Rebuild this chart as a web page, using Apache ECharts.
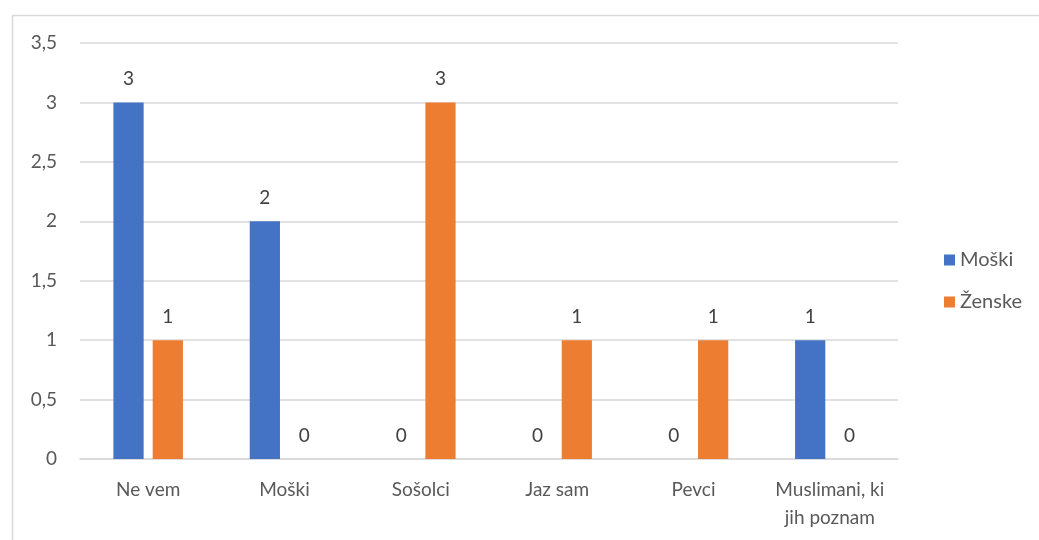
<!DOCTYPE html>
<html>
<head>
<meta charset="utf-8">
<script src="https://cdn.jsdelivr.net/npm/echarts@6/dist/echarts.min.js"></script>
<style>
html,body{margin:0;padding:0;background:#fff;}
#chart{width:1039px;height:540px;}
</style>
</head>
<body>
<div id="chart"></div>
<script>
var categories = ['Ne vem', 'Moški', 'Sošolci', 'Jaz sam', 'Pevci', 'Muslimani, ki\njih poznam'];
var moski = [3, 2, 0, 0, 0, 1];
var zenske = [1, 0, 3, 1, 1, 0];
var seriesNames = ['Moški', 'Ženske'];

var FONT = 'Lato';
var chart = echarts.init(document.getElementById('chart'), null, {renderer: 'canvas'});
var labelStyle = {
  show: true, position: 'top', distance: 14,
  color: '#404040', fontSize: 19, fontFamily: FONT
};
chart.setOption({
  animation: false,
  backgroundColor: '#ffffff',
  graphic: [{
    type: 'rect', left: 10, top: 13, z: -10,
    shape: {width: 1100, height: 600},
    style: {fill: 'none', stroke: '#d9d9d9', lineWidth: 1.5}
  }],
  grid: {left: 80, right: 141, top: 43, bottom: 81},
  legend: {
    orient: 'vertical', left: 939, top: 245,
    itemWidth: 11, itemHeight: 11, itemGap: 22, itemTextGap: 6,
    icon: 'rect',
    textStyle: {color: '#595959', fontSize: 20, fontFamily: FONT},
    data: seriesNames
  },
  xAxis: {
    type: 'category', data: categories,
    axisLine: {lineStyle: {color: '#d9d9d9', width: 1.5}},
    axisTick: {show: false},
    axisLabel: {color: '#595959', fontSize: 19, fontFamily: FONT, margin: 17, lineHeight: 28, interval: 0}
  },
  yAxis: {
    type: 'value', min: 0, max: 3.5, interval: 0.5,
    axisLine: {show: false}, axisTick: {show: false},
    splitLine: {lineStyle: {color: '#d9d9d9', width: 1.5}},
    axisLabel: {
      color: '#595959', fontSize: 19, fontFamily: FONT, margin: 23,
      formatter: function (v) { return String(v).replace('.', ','); }
    }
  },
  series: [
    {name: seriesNames[0], type: 'bar', data: moski, itemStyle: {color: '#4472C4'},
     barGap: '30%', barCategoryGap: '49%', label: labelStyle},
    {name: seriesNames[1], type: 'bar', data: zenske, itemStyle: {color: '#ED7D31'},
     label: labelStyle}
  ]
});
</script>
</body>
</html>
